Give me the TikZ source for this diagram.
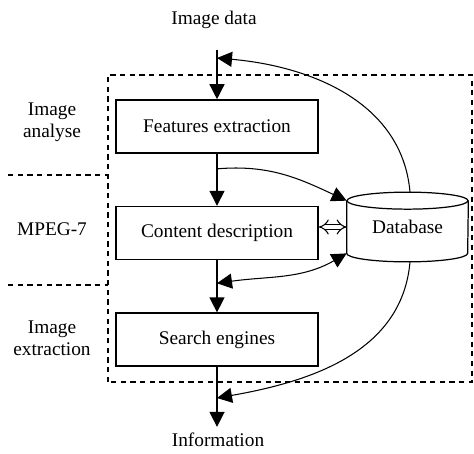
\documentclass[tikz,border=0pt]{standalone}
\usepackage{fontspec}
\setmainfont{Liberation Serif}
\usepackage{tikz}
\usetikzlibrary{arrows.meta, positioning, calc}
\tikzset{
  box/.style={draw, line width=0.9pt, minimum width=4.04cm, minimum height=1.06cm,
              inner sep=0pt, font=\fontsize{11}{13}\selectfont},
  lbl/.style={align=center, font=\fontsize{11}{12.5}\selectfont},
  flow/.style={-{Triangle[length=3mm,width=3mm]}, line width=0.8pt},
  back/.style={-{Triangle[length=3mm,width=3mm]}, line width=0.6pt},
  zone/.style={line width=0.7pt, dash pattern=on 3pt off 2.5pt},
  dbline/.style={line width=0.7pt},
}
\begin{document}
\begin{tikzpicture}[node distance=1.04cm]
  \useasboundingbox (0,0) rectangle (9.48,9.06);
  % stages
  \node[box] (feat) at (4.34,6.53) {Features extraction};
  \node[box, below=of feat] (cont) {Content description};
  \node[box, below=of cont] (srch) {Search engines};
  \node[lbl] (imgdata) at (4.28,8.66) {Image data};
  \node[lbl] (info) at (4.36,0.26) {Information};
  % database
  \node[lbl, minimum width=2.42cm, minimum height=1.04cm, inner sep=0pt] (db) at (8.15,4.52) {Database};
  \draw[dbline] (db.north west) -- (db.south west)
    arc[start angle=180, end angle=360, x radius=1.21cm, y radius=0.17cm] -- (db.north east);
  \draw[dbline] (db.north) ellipse[x radius=1.21cm, y radius=0.17cm];
  % zones
  \draw[zone] (2.16,1.42) rectangle (9.44,7.56);
  \draw[zone] (0.16,5.56) -- (2.16,5.56);
  \draw[zone] (0.16,3.36) -- (2.16,3.36);
  \node[lbl] (ana) at (1.04,6.62) {Image\\analyse};
  \node[lbl] (mpeg) at (1.04,4.48) {MPEG-7};
  \node[lbl] (extr) at (1.04,2.30) {Image\\extraction};
  % main flow
  \coordinate (j0) at (feat.north |- 0,7.90);
  \coordinate (j1) at ($(feat.south)!0.29!(cont.north)$);
  \coordinate (j2) at ($(cont.south)!0.44!(srch.north)$);
  \coordinate (j3) at (srch.south |- 0,1.10);
  \draw[flow, shorten <=3mm] (feat.north |- imgdata.south) -- (feat.north);
  \draw[flow] (feat) -- (cont);
  \draw[flow] (cont) -- (srch);
  \draw[flow] (srch.south) -- (srch.south |- info.north);
  % database links
  \draw[back] (j1) to[out=5, in=155] (db.north west);
  \draw[back, {Triangle[length=3mm,width=3mm]}-{Triangle[length=3mm,width=3mm]}] (j2) to[out=8, in=-150] (db.south west);
  \draw[double, double distance=2.4pt, line width=0.6pt, {Implies}-{Implies}] (cont.east |- db.west) -- (db.west);
  \draw[back] ($(db.north)+(0.05,0.17)$) to[out=95, in=-5] (j0);
  \draw[back] ($(db.south)+(0.05,-0.17)$) to[out=-95, in=10] (j3);
\end{tikzpicture}
\end{document}
